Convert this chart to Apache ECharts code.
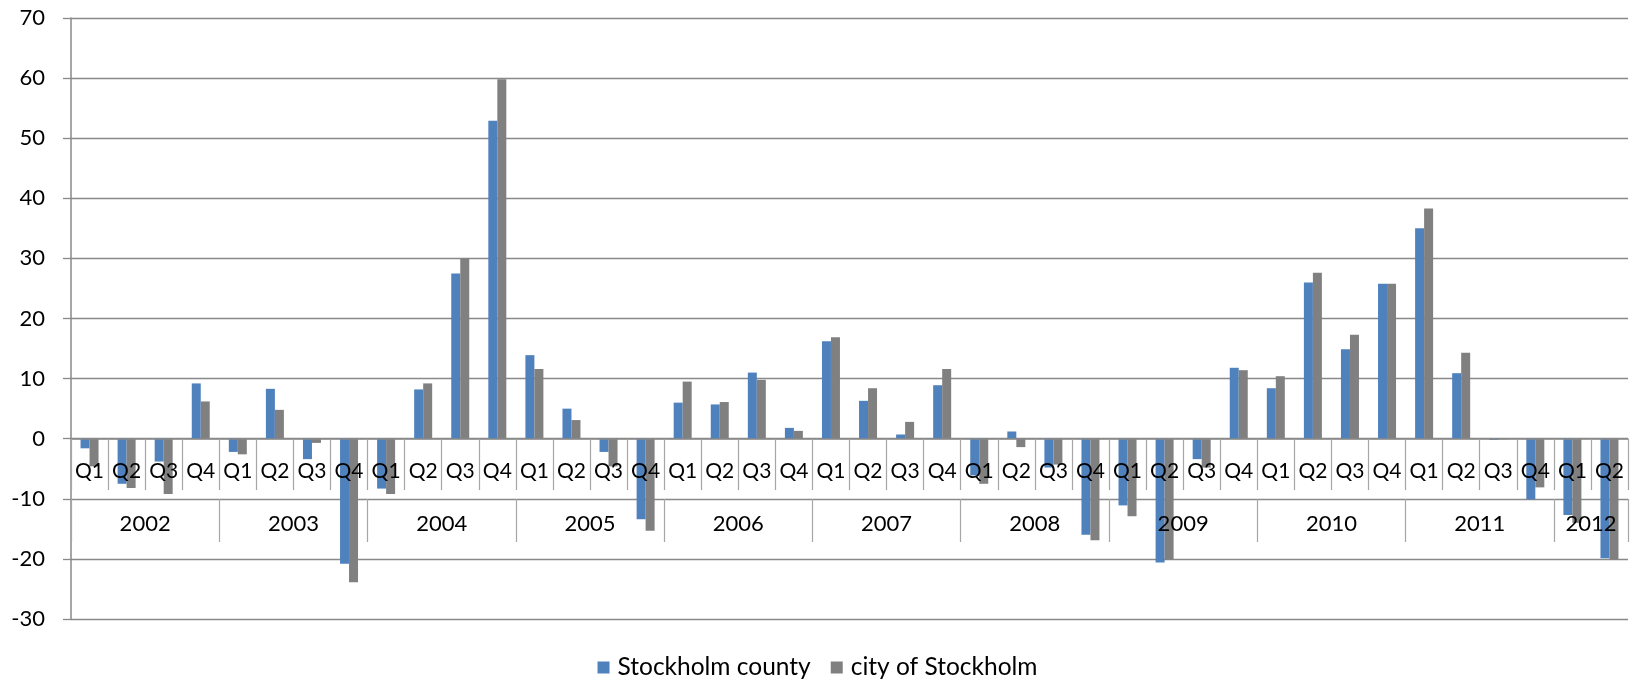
<!DOCTYPE html>
<html>
<head>
<meta charset="utf-8">
<script src="https://cdn.jsdelivr.net/npm/echarts@6/dist/echarts.min.js"></script>
<style>
html,body{margin:0;padding:0;background:#fff;}
#chart{width:1635px;height:685px;}
</style>
</head>
<body>
<div id="chart"></div>
<script>
const years = ['2002','2003','2004','2005','2006','2007','2008','2009','2010','2011','2012'];
const quarters = ['Q1','Q2','Q3','Q4','Q1','Q2','Q3','Q4','Q1','Q2','Q3','Q4','Q1','Q2','Q3','Q4',
  'Q1','Q2','Q3','Q4','Q1','Q2','Q3','Q4','Q1','Q2','Q3','Q4','Q1','Q2','Q3','Q4',
  'Q1','Q2','Q3','Q4','Q1','Q2','Q3','Q4','Q1','Q2'];
const yearBoundaries = [0,4,8,12,16,20,24,28,32,36,40,42];
const yearCenters = [2,6,10,14,18,22,26,30,34,38,41];
const seriesNames = ['Stockholm county','city of Stockholm'];
const county = [
  -1.6, -7.5, -3.8, 9.2,
  -2.2, 8.3, -3.4, -20.8,
  -8.3, 8.2, 27.5, 52.9,
  13.9, 5.0, -2.2, -13.4,
  6.0, 5.7, 11.0, 1.8,
  16.2, 6.3, 0.7, 8.9,
  -6.1, 1.2, -4.8, -16.0,
  -11.1, -20.6, -3.4, 11.8,
  8.4, 26.0, 14.9, 25.8,
  35.0, 10.9, -0.2, -10.1,
  -12.7, -19.9];
const city = [
  -4.6, -8.2, -9.2, 6.2,
  -2.6, 4.8, -0.7, -23.9,
  -9.2, 9.2, 30.0, 59.8,
  11.6, 3.1, -4.6, -15.3,
  9.5, 6.1, 9.8, 1.3,
  16.9, 8.4, 2.8, 11.6,
  -7.5, -1.4, -4.3, -16.9,
  -12.9, -20.1, -4.8, 11.4,
  10.4, 27.6, 17.3, 25.8,
  38.3, 14.3, -0.1, -8.1,
  -14.0, -20.1];

const FONT = 'Lato';
const chart = echarts.init(document.getElementById('chart'));
chart.setOption({
  animation: false,
  textStyle: {fontFamily: FONT},
  grid: {left: 71, right: 7, top: 18, bottom: 66, containLabel: false},
  legend: {
    data: seriesNames,
    top: 650,
    left: 'center',
    icon: 'rect',
    itemWidth: 12, itemHeight: 12,
    itemGap: 20,
    textStyle: {fontFamily: FONT, fontSize: 24.5, color: '#000', padding: [0, 0, 0, 3]}
  },
  xAxis: [{
    type: 'category',
    data: quarters,
    position: 'bottom',
    offset: -180,
    z: 10,
    axisLine: {show: true, onZero: false, lineStyle: {color: '#898989', width: 1.5}},
    axisTick: {show: true, interval: 0, alignWithLabel: false, length: 51, lineStyle: {color: '#a6a6a6', width: 1.2}},
    axisLabel: {interval: 0, margin: 22, fontFamily: FONT, fontSize: 21, color: '#000'},
    splitLine: {show: false}
  }, {
    type: 'value',
    min: 0, max: 42,
    position: 'bottom',
    offset: -120,
    z: 10,
    axisLine: {show: false, onZero: false},
    axisTick: {show: true, customValues: yearBoundaries, length: 43, lineStyle: {color: '#a6a6a6', width: 1.2}},
    axisLabel: {
      customValues: yearCenters,
      margin: 14,
      fontFamily: FONT, fontSize: 22, color: '#000',
      formatter: function (v) { return years[Math.min(Math.floor(v / 4), years.length - 1)]; }
    },
    splitLine: {show: false}
  }],
  yAxis: {
    type: 'value',
    min: -30, max: 70, interval: 10,
    axisLine: {show: true, lineStyle: {color: '#898989', width: 1.5}},
    axisTick: {show: true, length: 8, lineStyle: {color: '#898989', width: 1.3}},
    axisLabel: {margin: 26, fontFamily: FONT, fontSize: 22, color: '#000'},
    splitLine: {show: true, lineStyle: {color: '#898989', width: 1.3}}
  },
  series: [{
    name: seriesNames[0],
    type: 'bar',
    data: county,
    barWidth: 9,
    barGap: '0%',
    itemStyle: {color: '#4F81BD'}
  }, {
    name: seriesNames[1],
    type: 'bar',
    data: city,
    barWidth: 9,
    barGap: '0%',
    itemStyle: {color: '#808080'}
  }]
});
</script>
</body>
</html>
